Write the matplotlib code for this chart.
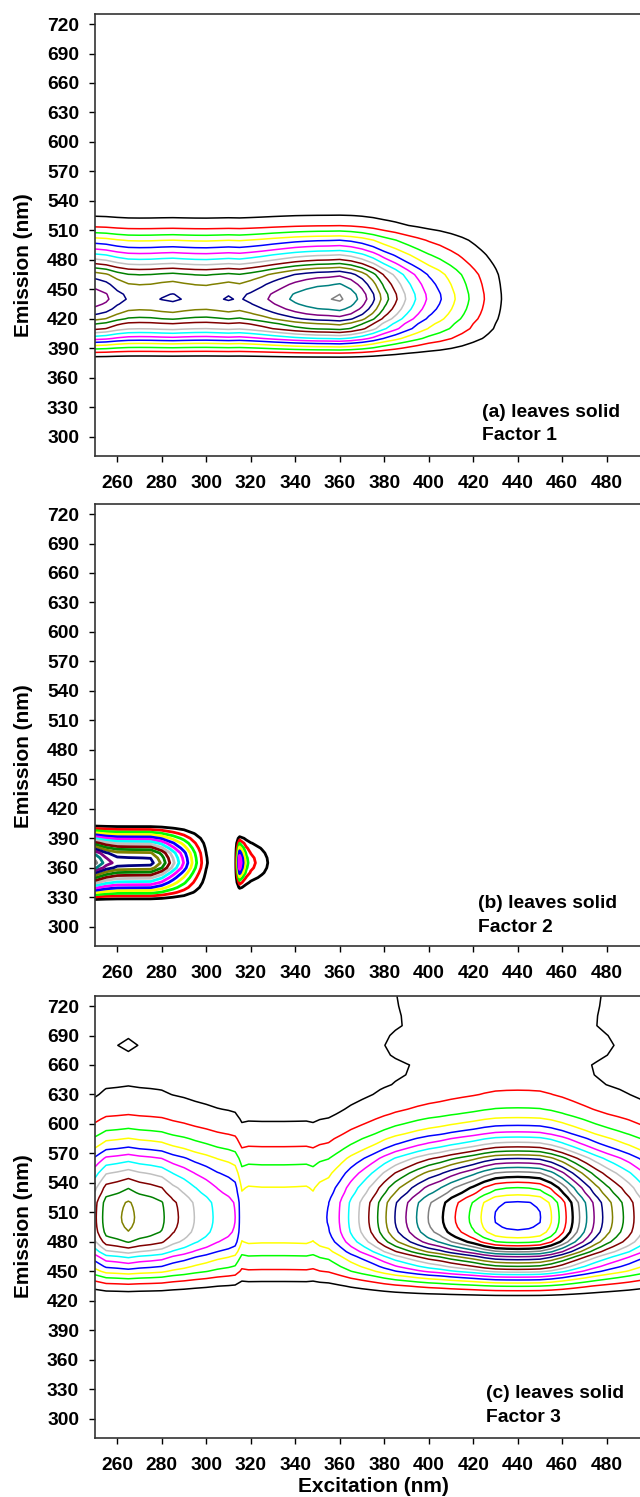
import numpy as np
import matplotlib.pyplot as plt

plt.rcParams['font.family'] = ['Liberation Sans', 'DejaVu Sans']
plt.rcParams['font.weight'] = 'bold'

# PARAFAC loadings (excitation loading in contour-level units,
# emission loading normalised to 1). Surface = outer product of the two.

# (a) Factor 1
ex_a = list(range(250, 505, 5))
exload_a = [13.6, 13.2, 12.4, 11.9, 11.8, 11.85, 12.03, 12.15, 11.95, 11.8,
            11.75, 11.9, 12.08, 11.9, 12.25, 12.7, 13.25, 13.75, 14.25, 14.6,
            14.85, 14.95, 15.15, 14.6, 13.6, 12.2, 10.5, 9.2, 7.9, 6.8,
            5.8, 5.1, 4.3, 3.5, 2.7, 2.0, 1.35, 0.7, 0.3, 0.1,
            0, 0, 0, 0, 0, 0, 0, 0, 0, 0, 0]
em_a = [280] + list(range(375, 540, 5)) + [730]
emload_a = [0, 0.0, 0.05, 0.13, 0.235, 0.34, 0.47, 0.57, 0.68, 0.74, 0.83,
            0.89, 0.94, 0.975, 1.0, 0.99, 0.96, 0.93, 0.89, 0.845, 0.766,
            0.681, 0.60, 0.53, 0.455, 0.39, 0.33, 0.255, 0.19, 0.13, 0.10,
            0.07, 0.03, 0.0, 0]

# (b) Factor 2 (main band + narrow peak near ex 316)
ex_b = [250, 255, 260, 265, 270, 275, 280, 285, 290, 295, 300, 305, 310,
        313, 315, 318, 320, 325, 330, 335, 340, 500]
exload_b1 = [15.3, 13.5, 12.6, 12.5, 12.45, 12.4, 10.8, 8.3, 5.9, 3.3, 1.1, 0.2, 0,
             0, 0, 0, 0, 0, 0, 0, 0, 0]
exload_b2 = [0, 0, 0, 0, 0, 0, 0, 0, 0, 0, 0, 0, 0,
             0, 6.8, 3.4, 2.4, 1.45, 0.6, 0, 0, 0]
em_b = [280] + list(range(320, 415, 5)) + [730]
emload_b1 = [0, 0, 0.0, 0.12, 0.27, 0.41, 0.54, 0.66, 0.79, 0.93, 1.0, 0.965,
             0.9, 0.76, 0.62, 0.45, 0.28, 0.13, 0.0, 0, 0]
emload_b2 = [0, 0, 0, 0, 0, 0.18, 0.36, 0.56, 0.78, 0.93, 1.0, 0.95,
             0.82, 0.64, 0.44, 0.22, 0, 0, 0, 0, 0]

# (c) Factor 3
ex_c = [250, 255, 260, 265, 270, 275, 280, 285, 290, 295, 300, 305, 310,
        313, 316, 319, 325, 330, 335, 340, 345, 348, 351] + list(range(355, 505, 5))
exload_c = [8.8, 10.55, 10.85, 11.25, 10.8, 10.55, 10.2, 9.3, 8.7, 7.95, 7.4, 6.75, 6.35,
            6.0, 4.42, 4.6, 4.55, 4.55, 4.55, 4.57, 4.6, 4.42, 4.8,
            5.05, 6.05, 7.25, 8.3, 9.45, 10.8, 12.05, 13.05, 14.1, 15.05,
            15.75, 16.7, 17.5, 18.3, 19.3, 20.05, 20.3, 20.38, 20.3, 20.05,
            19.05, 17.6, 15.9, 14.3, 12.8, 11.55, 10.5, 9.5, 8.4, 7.5]
em_c = [280] + list(range(420, 645, 5)) + list(range(650, 740, 10))
emload_c = [0, 0.0, 0.045, 0.095, 0.15, 0.225, 0.31, 0.41, 0.49, 0.56, 0.64,
            0.74, 0.82, 0.895, 0.94, 0.975, 0.99, 0.998, 1.0, 0.998, 0.994,
            0.987, 0.955, 0.915, 0.885, 0.84, 0.795, 0.75, 0.695, 0.642, 0.587,
            0.52, 0.46, 0.405, 0.36, 0.31, 0.27, 0.235, 0.205, 0.175, 0.152,
            0.135, 0.12, 0.106, 0.097, 0.086,
            0.077, 0.075, 0.087, 0.092, 0.0875, 0.079, 0.0795, 0.081, 0.082]

levels = np.arange(1, 21)
sp_colors = ['#000000', '#FF0000', '#00FF00', '#FFFF00', '#0000FF', '#FF00FF',
             '#00FFFF', '#C0C0C0', '#800000', '#008000', '#808000', '#000080',
             '#800080', '#008080', '#808080']
level_colors = [sp_colors[i % 15] for i in range(len(levels))]

xticks = np.arange(260, 481, 20)
yticks = np.arange(300, 721, 30)

fig = plt.figure(figsize=(6.4, 14.97), dpi=100)
W, H = 640.0, 1497.0

panels = [
    (np.outer(emload_a, exload_a), ex_a, em_a, 456, 1.1, 0.431,
     '(a) leaves solid', 'Factor 1', 482, 417, 440),
    (np.outer(emload_b1, exload_b1) + np.outer(emload_b2, exload_b2), ex_b, em_b, 946, 2.0, 0.429,
     '(b) leaves solid', 'Factor 2', 478, 908, 931.5),
    (np.outer(emload_c, exload_c), ex_c, em_c, 1438, 1.1, 0.479,
     '(c) leaves solid', 'Factor 3', 486, 1398, 1421.5),
]

for i, (Z, ex, em, bot, lw, ylab_y, t1, t2, tx, ty1, ty2) in enumerate(panels):
    ax = fig.add_axes([95 / W, 1 - bot / H, 556.25 / W, 442 / H])
    lws = [lw] * len(levels)
    if i == 2:
        lws[15] = 1.7
    ax.contour(ex, em, Z, levels=levels, colors=level_colors, linewidths=lws)
    ax.set_xlim(250, 500)
    ax.set_ylim(280.4, 730.2)
    ax.set_xticks(xticks)
    ax.set_yticks(yticks)
    ax.tick_params(direction='out', length=4.5, width=1, labelsize=13.8, pad=7)
    ax.tick_params(axis='x', pad=9)
    for s in ax.spines.values():
        s.set_linewidth(1.2)
        s.set_color('#333333')
    ax.set_ylabel('Emission (nm)', fontsize=15, fontweight='bold')
    ax.yaxis.set_label_coords(-0.112, ylab_y)
    ax.text((tx - 95) / 556.25, (bot - ty1) / 442, t1, transform=ax.transAxes,
            fontsize=13.9, fontweight='bold', va='baseline', ha='left')
    ax.text((tx - 95) / 556.25, (bot - ty2) / 442, t2, transform=ax.transAxes,
            fontsize=13.9, fontweight='bold', va='baseline', ha='left')
    if i == 2:
        ax.set_xlabel('Excitation (nm)', fontsize=15, fontweight='bold', labelpad=2)

fig.savefig('out.png', dpi=100)
